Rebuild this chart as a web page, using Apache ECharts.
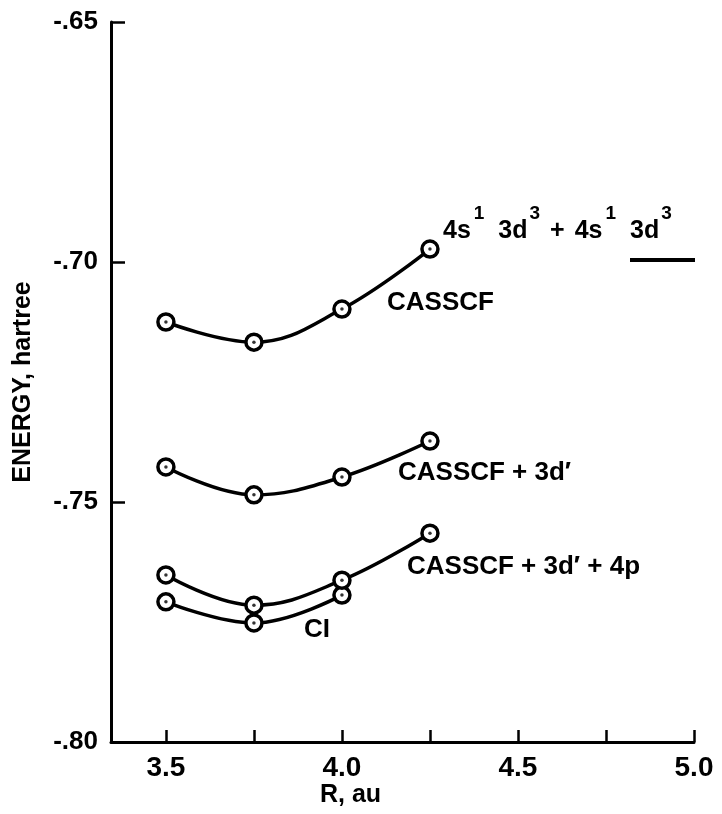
<!DOCTYPE html>
<html>
<head>
<meta charset="utf-8">
<script src="https://cdn.jsdelivr.net/npm/echarts@6/dist/echarts.min.js"></script>
<style>
html,body{margin:0;padding:0;background:#fff;}
#main{width:722px;height:814px;}
</style>
</head>
<body>
<div id="main"></div>
<script>
// ---- data ----
const R = [3.5, 3.75, 4.0, 4.25];
const casscf = [-0.7125, -0.7167, -0.7098, -0.6973];
const casscf3d = [-0.7427, -0.7485, -0.7448, -0.7373];
const casscf3d4p = [-0.7652, -0.7715, -0.7663, -0.7565];
const ci = [-0.7708, -0.7752, -0.7694];
const curveLabels = ['CASSCF', 'CASSCF + 3d\u2032', 'CASSCF + 3d\u2032 + 4p', 'CI'];
const yTicks = [-0.80, -0.75, -0.70, -0.65];
const yTickLabels = ['-.80', '-.75', '-.70', '-.65'];
const xTicks = [3.5, 3.75, 4.0, 4.25, 4.5, 4.75, 5.0];
const xLabelValues = [3.5, 4.0, 4.5, 5.0];
const xTickLabels = ['3.5', '4.0', '4.5', '5.0'];
const xName = 'R, au';
const yName = 'ENERGY, hartree';

const FONT = '"Liberation Sans", Arial, Helvetica, sans-serif';
function pairs(ys) { return ys.map((y, i) => [R[i], y]); }

function curve(name, ys) {
  return {
    name: name, type: 'line', data: pairs(ys), smooth: 0.4,
    symbol: 'circle', symbolSize: 16,
    lineStyle: { color: '#000', width: 3.5 },
    itemStyle: { color: '#fff', borderColor: '#000', borderWidth: 3.5 },
    z: 2
  };
}
function dots(ys) {
  return {
    type: 'scatter', data: pairs(ys), symbol: 'circle', symbolSize: 3.5,
    itemStyle: { color: '#000' }, z: 5, silent: true
  };
}

const chart = echarts.init(document.getElementById('main'), null, { renderer: 'canvas' });
const option = {
  backgroundColor: '#fff',
  animation: false,
  grid: { left: 111, right: 28, top: 22, bottom: 72, outerBoundsMode: 'none', containLabel: false },
  xAxis: {
    type: 'value', min: 3.344, max: 5.0,
    axisLine: { lineStyle: { color: '#000', width: 3 } },
    axisTick: { inside: true, length: 12, customValues: xTicks, lineStyle: { color: '#000', width: 2.5 } },
    axisLabel: {
      customValues: xLabelValues, margin: 12, color: '#000',
      fontFamily: FONT, fontWeight: 'bold', fontSize: 28,
      formatter: v => { const i = xLabelValues.findIndex(t => Math.abs(t - v) < 1e-6); return i >= 0 ? xTickLabels[i] : ''; }
    },
    splitLine: { show: false }
  },
  yAxis: {
    type: 'value', min: -0.80, max: -0.65, interval: 0.05,
    name: yName, nameLocation: 'middle', nameGap: 75, nameRotate: 90,
    nameTextStyle: { fontFamily: FONT, fontWeight: 'bold', fontSize: 25, color: '#000' },
    axisLine: { lineStyle: { color: '#000', width: 3 } },
    axisTick: { inside: true, length: 14, lineStyle: { color: '#000', width: 2.5 } },
    axisLabel: {
      margin: 13, color: '#000', fontFamily: FONT, fontWeight: 'bold', fontSize: 26,
      formatter: v => { const i = yTicks.findIndex(t => Math.abs(t - v) < 1e-6); return i >= 0 ? yTickLabels[i] : ''; }
    },
    splitLine: { show: false }
  },
  series: [
    curve('CI', ci),
    curve('CASSCF + 3d\' + 4p', casscf3d4p),
    curve('CASSCF + 3d\'', casscf3d),
    curve('CASSCF', casscf),
    dots(ci), dots(casscf3d4p), dots(casscf3d), dots(casscf)
  ],
  graphic: [
    { type: 'text', left: 387, top: 304 - 14, style: { text: curveLabels[0], font: 'bold 26px ' + FONT, fill: '#000' } },
    { type: 'text', left: 398, top: 474 - 14, style: { text: curveLabels[1], font: 'bold 26px ' + FONT, fill: '#000' } },
    { type: 'text', left: 407, top: 568 - 14, style: { text: curveLabels[2], font: 'bold 26px ' + FONT, fill: '#000' } },
    { type: 'text', left: 304, top: 631 - 14, style: { text: curveLabels[3], font: 'bold 26px ' + FONT, fill: '#000' } },
    { type: 'text', left: 320, top: 783, style: { text: xName, font: 'bold 25px ' + FONT, fill: '#000' } },
    {
      type: 'text', left: 443, top: 204,
      style: {
        text: '{m|4s}{s|1}{m|3d}{t|3}{p|+}{m|4s}{s|1}{m|3d}{t|3}',
        fill: '#000',
        rich: {
          m: { fontFamily: FONT, fontWeight: 'bold', fontSize: 25, lineHeight: 40, verticalAlign: 'bottom', fill: '#000' },
          p: { fontFamily: FONT, fontWeight: 'bold', fontSize: 25, lineHeight: 40, verticalAlign: 'bottom', fill: '#000', padding: [0, 10, 0, 10] },
          s: { fontFamily: FONT, fontWeight: 'bold', fontSize: 19, lineHeight: 20, verticalAlign: 'top', fill: '#000', padding: [0, 14, 0, 3] },
          t: { fontFamily: FONT, fontWeight: 'bold', fontSize: 19, lineHeight: 20, verticalAlign: 'top', fill: '#000', padding: [0, 0, 0, 2] }
        }
      }
    },
    { type: 'line', shape: { x1: 630, y1: 260, x2: 695, y2: 260 }, style: { stroke: '#000', lineWidth: 4 } }
  ]
};
chart.setOption(option);
</script>
</body>
</html>
